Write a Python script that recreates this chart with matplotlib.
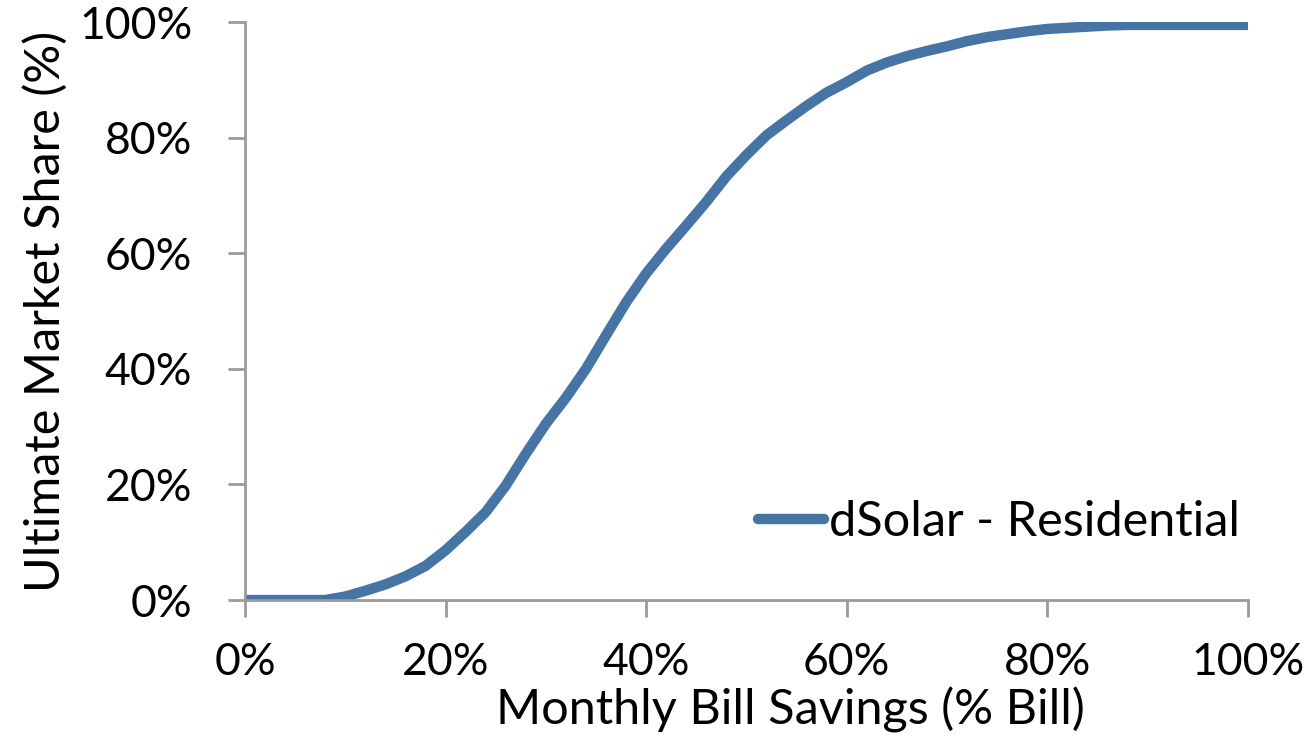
import numpy as np
import matplotlib.pyplot as plt
from matplotlib.ticker import FuncFormatter

# bill savings (%) and ultimate market share (%)
savings = [0, 2, 4, 6, 8, 10, 12, 14, 16, 18, 20, 22, 24, 26, 28, 30,
           32, 34, 36, 38, 40, 42, 44, 46, 48, 50, 52, 54, 56, 58, 60,
           62, 64, 66, 68, 70, 72, 74, 76, 78, 80, 82, 84, 86, 88, 90,
           92, 94, 96, 98, 100]
share = [0, 0, 0, 0, 0, 0.6, 1.6, 2.7, 4.1, 5.9, 8.6, 11.8, 15.2, 19.8,
         25.3, 30.5, 35.0, 40.0, 45.8, 51.5, 56.5, 60.8, 64.8, 68.9, 73.3,
         77.0, 80.4, 83.0, 85.5, 87.8, 89.6, 91.6, 93.0, 94.1, 95.0, 95.8,
         96.7, 97.4, 97.9, 98.4, 98.8, 99.0, 99.2, 99.4, 99.5, 99.5, 99.5,
         99.5, 99.5, 99.5, 99.5]
series_name = 'dSolar - Residential'

plt.rcParams['font.family'] = ['Lato', 'DejaVu Sans']
plt.rcParams['font.size'] = 32

fig = plt.figure(figsize=(13.12, 7.54), dpi=100)
ax = fig.add_axes([0.1867, 0.2042, 0.7645, 0.7666])

ax.plot(savings, share, color='#4674a5', linewidth=7.5, label=series_name,
        solid_capstyle='round', solid_joinstyle='round')

ax.set_xlim(0, 100)
ax.set_ylim(0, 100)
ax.set_xticks(np.arange(0, 101, 20))
ax.set_yticks(np.arange(0, 101, 20))
pct = FuncFormatter(lambda v, p: f'{v:.0f}%')
ax.xaxis.set_major_formatter(pct)
ax.yaxis.set_major_formatter(pct)

grey = '#9a9a9a'
for s in ['top', 'right']:
    ax.spines[s].set_visible(False)
for s in ['left', 'bottom']:
    ax.spines[s].set_color(grey)
    ax.spines[s].set_linewidth(2)
ax.tick_params(axis='both', direction='out', length=12, width=2, color=grey)
ax.tick_params(axis='y', pad=26)
ax.tick_params(axis='x', pad=18)

ax.set_xlabel('Monthly Bill Savings (% Bill)', fontsize=35)
ax.xaxis.set_label_coords(0.544, -0.15)
ax.set_ylabel('Ultimate Market Share (%)', fontsize=35, labelpad=8)

ax.legend(loc='center left', bbox_to_anchor=(0.512, 0.135), frameon=False,
          fontsize=35, handlelength=1.35, handletextpad=0.1, borderpad=0,
          borderaxespad=0)

fig.savefig('out.png', dpi=100)
